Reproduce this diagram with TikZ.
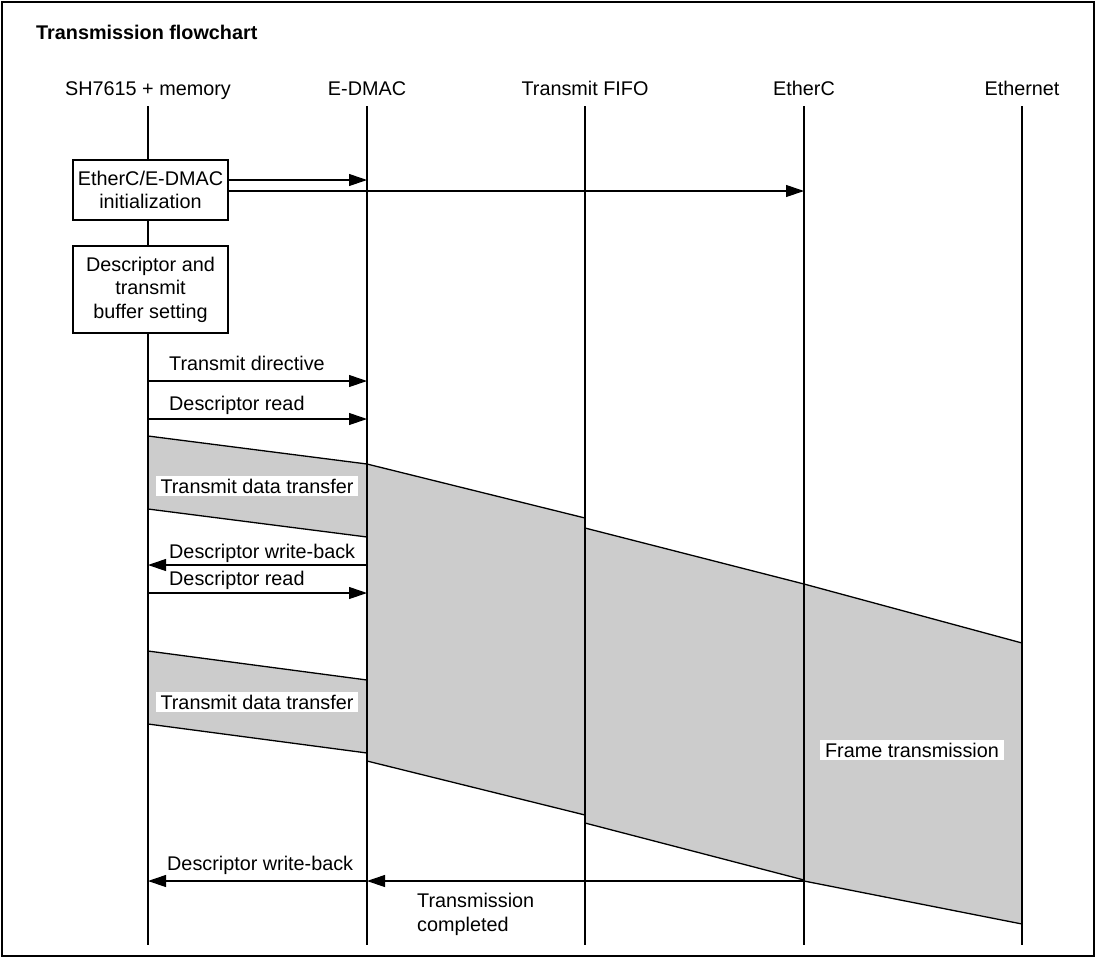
\documentclass[tikz,border=0pt]{standalone}
\usepackage{fontspec}
\setmainfont{Liberation Sans}
\usetikzlibrary{arrows.meta}
\definecolor{regfill}{RGB}{204,204,204}
\begin{document}
\begin{tikzpicture}[x=1pt,y=-1pt,
  every node/.style={font=\fontsize{19.8}{23.5}\selectfont, inner sep=0pt},
  life/.style={line width=1.2pt},
  msg/.style={line width=1.1pt,-{Triangle[length=18pt,width=12pt]}},
  proc/.style={draw,line width=1.1pt,minimum width=155pt,align=center,fill=white},
  region/.style={fill=regfill,draw,line width=1.3pt,line join=miter},
  lbl/.style={fill=white,inner xsep=5pt,inner ysep=3pt},
  head/.style={anchor=base},
  mlabel/.style={anchor=base west}
]
\useasboundingbox (0,0) rectangle (1099,959);
\draw[line width=2pt] (2,2) rectangle (1094,956);

% title
\node[anchor=base west,font=\fontsize{19.8}{23.5}\selectfont\bfseries] (title) at (36,39) {Transmission flowchart};

% headers
\node[head] (h1) at (148,95) {SH7615 + memory};
\node[head] (h2) at (367,95) {E-DMAC};
\node[head] (h3) at (585,95) {Transmit FIFO};
\node[head] (h4) at (804,95) {EtherC};
\node[head] (h5) at (1022,95) {Ethernet};

% shaded regions
\draw[region] (148,436) -- (367,464) -- (367,537) -- (148,509) -- cycle;
\draw[region] (148,651) -- (367,680) -- (367,753) -- (148,724) -- cycle;
\draw[region] (367,464) -- (585,518) -- (585,815) -- (367,761) -- cycle;
\draw[region] (585,528) -- (804,584) -- (804,880) -- (585,823) -- cycle;
\draw[region] (804,584) -- (1022,643) -- (1022,924) -- (804,881) -- cycle;

% lifelines
\coordinate (t1) at (148,106); \coordinate (e1) at (148,945);
\coordinate (t2) at (367,106); \coordinate (e2) at (367,945);
\coordinate (t3) at (585,106); \coordinate (e3) at (585,945);
\coordinate (t4) at (804,106); \coordinate (e4) at (804,945);
\coordinate (t5) at (1022,106); \coordinate (e5) at (1022,945);
\foreach \i in {1,...,5} { \draw[life] (t\i) -- (e\i); }

% process boxes
\node[proc,minimum height=60pt] (b1) at (150.5,190) {EtherC/E-DMAC\\initialization};
\node[proc,minimum height=87pt] (b2) at (150.5,289.5) {Descriptor and\\transmit\\buffer setting};

% init arrows
\coordinate (i1s) at (228,180); \coordinate (i1e) at (367,180);
\coordinate (i2s) at (228,191); \coordinate (i2e) at (804,191);
\draw[msg] (i1s) -- (i1e);
\draw[msg] (i2s) -- (i2e);

% messages
\coordinate (m1s) at (148,381); \coordinate (m1e) at (367,381);
\coordinate (m2s) at (148,419); \coordinate (m2e) at (367,419);
\coordinate (m3s) at (367,565); \coordinate (m3e) at (148,565);
\coordinate (m4s) at (148,593); \coordinate (m4e) at (367,593);
\coordinate (m5s) at (367,881); \coordinate (m5e) at (148,881);
\coordinate (m6s) at (804,881); \coordinate (m6e) at (367,881);
\draw[msg] (m1s) -- (m1e);
\draw[msg] (m2s) -- (m2e);
\draw[msg] (m3s) -- (m3e);
\draw[msg] (m4s) -- (m4e);
\draw[msg] (m5s) -- (m5e);
\draw[msg] (m6s) -- (m6e);

\node[mlabel] (l1) at (169,370) {Transmit directive};
\node[mlabel] (l2) at (169,410) {Descriptor read};
\node[mlabel] (l3) at (169,558) {Descriptor write-back};
\node[mlabel] (l4) at (169,585) {Descriptor read};
\node[mlabel] (l5) at (167,870) {Descriptor write-back};
\node[mlabel,align=left] (l6) at (417,931) {Transmission\\completed};

% region labels
\node[lbl] (r1) at (257,486) {Transmit data transfer};
\node[lbl] (r2) at (257,702) {Transmit data transfer};
\node[lbl] (r5) at (912,750) {Frame transmission};
\end{tikzpicture}
\end{document}
